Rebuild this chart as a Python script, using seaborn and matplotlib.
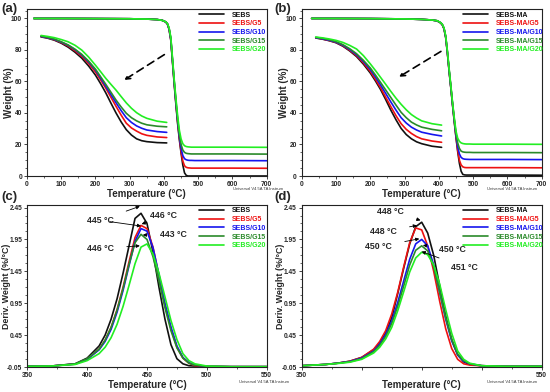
import numpy as np
import pandas as pd
import matplotlib
matplotlib.use('Agg')
import matplotlib.pyplot as plt
import seaborn as sns
from matplotlib.lines import Line2D
from matplotlib.ticker import AutoMinorLocator

# ---------------- data ----------------
names_a = ['SEBS', 'SEBS/G5', 'SEBS/G10', 'SEBS/G15', 'SEBS/G20']
names_b = ['SEBS-MA', 'SEBS-MA/G5', 'SEBS-MA/G10', 'SEBS-MA/G15', 'SEBS-MA/G20']
colors = ['#111111', '#ee1111', '#1515ee', '#2a8a2a', '#22ee22']

# (a) TGA, full run
t_main_a = [20, 100, 200, 300, 350, 380, 395, 405, 410, 415, 420, 425, 430, 435,
            440, 445, 450, 455, 460, 465, 470, 475, 480, 490, 500, 600, 700]
w_main_a = [
    [100, 100, 99.9, 99.8, 99.6, 99.3, 98.8, 97.8, 96.5, 93.0, 86.0, 72.0, 58.0, 45.0,
     33.0, 23.0, 14.5, 7.0, 2.0, 0.4, 0, 0, 0, 0, 0, 0, 0],
    [100, 100, 99.9, 99.8, 99.6, 99.3, 98.8, 97.8, 96.5, 93.2, 86.5, 72.5, 59.0, 46.0,
     34.0, 24.0, 15.5, 9.5, 6.5, 5.5, 5.2, 5.1, 5.0, 5.0, 5.0, 5.0, 4.9],
    [100, 100, 99.9, 99.8, 99.6, 99.3, 98.8, 97.8, 96.6, 93.4, 87.0, 73.0, 59.5, 46.5,
     35.0, 25.0, 17.5, 13.0, 11.0, 10.3, 10.0, 9.9, 9.9, 9.8, 9.8, 9.8, 9.7],
    [100, 100, 99.9, 99.8, 99.6, 99.3, 98.8, 97.8, 96.7, 93.6, 87.5, 73.5, 60.0, 47.5,
     36.0, 26.5, 20.0, 16.5, 15.0, 14.4, 14.2, 14.1, 14.0, 14.0, 14.0, 14.0, 13.9],
    [100, 100, 99.9, 99.8, 99.6, 99.3, 98.8, 97.9, 96.8, 94.0, 88.0, 74.5, 61.0, 49.0,
     38.0, 29.0, 23.5, 20.5, 19.2, 18.7, 18.5, 18.4, 18.3, 18.3, 18.3, 18.3, 18.2],
]
# (a) TGA, lower curves
t_low_a = [41, 60, 80, 100, 120, 140, 160, 180, 200, 215, 230, 245, 260, 275, 290,
           305, 320, 335, 350, 380, 408]
w_low_a = [
    [88.3, 87.5, 86.2, 84.3, 81.8, 78.6, 74.8, 69.8, 64.0, 58.6, 52.8, 46.3, 40.0, 34.3,
     29.4, 26.0, 23.6, 22.4, 21.8, 21.2, 21.0],
    [88.5, 87.7, 86.5, 84.7, 82.5, 79.5, 76.0, 71.4, 66.0, 61.0, 55.8, 50.0, 44.2, 38.6,
     33.5, 30.5, 28.5, 26.8, 25.8, 24.8, 24.4],
    [88.6, 87.8, 86.7, 85.0, 83.0, 80.2, 76.8, 72.4, 67.2, 62.2, 57.0, 51.7, 46.5, 41.5,
     37.0, 34.0, 31.8, 30.3, 29.2, 28.2, 27.7],
    [88.8, 88.0, 86.9, 85.2, 83.2, 80.5, 77.2, 72.9, 67.8, 63.0, 58.2, 53.2, 48.2, 43.8,
     39.8, 37.0, 35.0, 33.5, 32.5, 31.6, 31.2],
    [89.2, 88.6, 87.8, 86.6, 85.2, 83.0, 79.9, 75.5, 70.3, 66.2, 62.0, 58.2, 54.5, 50.4,
     46.4, 43.0, 40.2, 38.1, 36.6, 34.8, 34.0],
]

# (b) TGA, full run
t_main_b = [29, 100, 200, 300, 350, 380, 395, 405, 410, 415, 420, 425, 430, 435,
            440, 445, 450, 455, 460, 465, 470, 475, 480, 490, 500, 600, 700]
w_main_b = [
    [100, 100, 99.9, 99.7, 99.4, 99.0, 98.5, 97.2, 96.0, 93.5, 88.0, 78.0, 66.5, 56.0,
     45.0, 34.5, 24.5, 15.5, 8.0, 3.0, 1.0, 0.7, 0.6, 0.6, 0.6, 0.6, 0.5],
    [100, 100, 99.9, 99.7, 99.4, 99.0, 98.5, 97.2, 96.0, 93.5, 88.0, 78.0, 66.5, 56.0,
     45.2, 35.0, 25.0, 16.5, 10.0, 7.0, 5.8, 5.4, 5.3, 5.3, 5.3, 5.3, 5.2],
    [100, 100, 99.9, 99.7, 99.4, 99.0, 98.5, 97.3, 96.1, 93.7, 88.3, 78.4, 67.0, 56.4,
     45.5, 35.5, 26.0, 18.5, 14.0, 11.8, 11.0, 10.7, 10.6, 10.5, 10.5, 10.5, 10.4],
    [100, 100, 99.9, 99.7, 99.4, 99.0, 98.5, 97.3, 96.2, 93.8, 88.6, 78.8, 67.4, 56.8,
     46.0, 36.0, 27.0, 21.0, 17.5, 15.8, 15.3, 15.1, 15.0, 15.0, 14.9, 14.9, 14.8],
    [100, 100, 99.9, 99.7, 99.4, 99.0, 98.6, 97.4, 96.3, 94.0, 89.0, 79.3, 68.0, 57.4,
     46.5, 37.0, 28.5, 24.0, 22.0, 21.0, 20.6, 20.4, 20.3, 20.3, 20.2, 20.2, 20.1],
]
# (b) TGA, lower curves
t_low_b = [41, 60, 80, 100, 120, 140, 160, 180, 200, 215, 230, 245, 260, 275, 290,
           305, 320, 335, 350, 380, 408]
w_low_b = [
    [87.6, 86.9, 85.9, 84.6, 82.4, 79.4, 75.8, 71.0, 65.4, 60.4, 54.9, 48.5, 41.8, 35.7,
     30.2, 26.3, 23.6, 21.7, 20.5, 18.9, 18.2],
    [87.7, 87.0, 86.0, 84.8, 82.7, 79.8, 76.4, 71.8, 66.4, 61.4, 56.0, 50.0, 44.0, 38.3,
     33.2, 29.6, 27.0, 25.0, 23.6, 22.2, 21.4],
    [87.8, 87.1, 86.2, 85.0, 83.0, 80.3, 77.0, 72.7, 67.6, 62.9, 57.8, 52.4, 47.0, 41.8,
     37.0, 33.6, 31.0, 29.2, 27.8, 26.4, 25.4],
    [88.0, 87.4, 86.5, 85.3, 83.4, 80.8, 77.6, 73.4, 68.6, 64.1, 59.4, 54.6, 49.8, 45.0,
     40.4, 37.0, 34.2, 32.4, 31.0, 29.6, 28.7],
    [88.2, 87.7, 87.0, 86.1, 84.8, 82.9, 80.6, 76.4, 71.2, 67.0, 62.6, 58.2, 53.7, 49.4,
     45.5, 42.0, 39.0, 36.8, 35.0, 33.2, 32.3],
]

# (c) DTG
t_dtg_c = [350, 370, 390, 400, 410, 415, 420, 425, 430, 435, 440, 445, 450, 455,
           460, 465, 470, 475, 480, 485, 490, 500, 520, 550]
d_dtg_c = [
    [-0.04, -0.035, 0.0, 0.09, 0.28, 0.45, 0.70, 1.02, 1.42, 1.85, 2.28, 2.36, 2.20, 1.75,
     1.20, 0.70, 0.30, 0.08, 0.0, -0.03, -0.035, -0.04, -0.045, -0.045],
    [-0.04, -0.035, -0.005, 0.07, 0.23, 0.37, 0.57, 0.85, 1.20, 1.60, 1.98, 2.17, 2.12, 1.83,
     1.38, 0.92, 0.55, 0.26, 0.09, 0.01, -0.03, -0.04, -0.045, -0.045],
    [-0.04, -0.035, -0.005, 0.07, 0.22, 0.35, 0.54, 0.81, 1.15, 1.54, 1.92, 2.12, 2.08, 1.82,
     1.40, 0.95, 0.58, 0.28, 0.10, 0.02, -0.02, -0.04, -0.045, -0.045],
    [-0.04, -0.035, 0.0, 0.08, 0.23, 0.37, 0.57, 0.84, 1.18, 1.56, 1.90, 2.03, 1.95, 1.68,
     1.30, 0.88, 0.52, 0.25, 0.09, 0.01, -0.02, -0.04, -0.045, -0.045],
    [-0.04, -0.035, -0.01, 0.05, 0.16, 0.26, 0.41, 0.62, 0.90, 1.23, 1.57, 1.83, 1.88, 1.72,
     1.42, 1.05, 0.68, 0.38, 0.16, 0.05, 0.0, -0.035, -0.045, -0.045],
]
peak_labels_c = ['445 °C', '446 °C', '443 °C', '446 °C']

# (d) DTG
t_dtg_d = [350, 370, 380, 390, 400, 410, 415, 420, 425, 430, 435, 440, 445, 450, 455,
           460, 465, 470, 475, 480, 485, 490, 500, 520, 550]
d_dtg_d = [
    [-0.03, -0.01, 0.01, 0.04, 0.10, 0.22, 0.33, 0.48, 0.72, 1.10, 1.50, 1.88, 2.15, 2.22, 2.05,
     1.70, 1.22, 0.75, 0.38, 0.14, 0.03, -0.01, -0.03, -0.04, -0.04],
    [-0.03, -0.01, 0.01, 0.04, 0.10, 0.23, 0.35, 0.52, 0.78, 1.12, 1.52, 1.90, 2.13, 2.10, 1.85,
     1.45, 0.98, 0.55, 0.24, 0.07, 0.0, -0.02, -0.03, -0.04, -0.04],
    [-0.03, -0.01, 0.01, 0.035, 0.09, 0.20, 0.31, 0.46, 0.67, 0.96, 1.30, 1.64, 1.88, 1.95, 1.85,
     1.55, 1.12, 0.70, 0.36, 0.14, 0.04, 0.0, -0.03, -0.04, -0.04],
    [-0.03, -0.01, 0.01, 0.03, 0.08, 0.19, 0.29, 0.43, 0.63, 0.90, 1.22, 1.55, 1.78, 1.85, 1.77,
     1.52, 1.12, 0.72, 0.38, 0.15, 0.05, 0.0, -0.03, -0.04, -0.04],
    [-0.03, -0.01, 0.005, 0.025, 0.07, 0.17, 0.26, 0.39, 0.57, 0.83, 1.13, 1.44, 1.66, 1.75, 1.71,
     1.55, 1.25, 0.85, 0.48, 0.20, 0.07, 0.01, -0.03, -0.04, -0.04],
]
peak_labels_d = ['448 °C', '448 °C', '450 °C', '450 °C', '451 °C']

tga_xticks = [0, 100, 200, 300, 400, 500, 600, 700]
tga_yticks = [0, 20, 40, 60, 80, 100]
dtg_yticks = [-0.05, 0.45, 0.95, 1.45, 1.95, 2.45]
dtg_xticks_c = [350, 400, 450, 500, 550]
dtg_xticks_d = [350, 400, 450, 500, 550]
dtg_xlabels_d = ['350', '', '', '', '550']

# ---------------- style ----------------
sns.set_style('ticks')
plt.rcParams['font.family'] = ['Liberation Sans', 'DejaVu Sans']
plt.rcParams['axes.linewidth'] = 0.8
narrow = ['Liberation Sans Narrow', 'Liberation Sans', 'DejaVu Sans']
LW = 1.2

fig = plt.figure(figsize=(5.5, 3.92), dpi=100)
W, H = 550, 392


def add_ax(x0, y0, x1, y1):
    return fig.add_axes([x0 / W, 1 - y1 / H, (x1 - x0) / W, (y1 - y0) / H])


def to_long(t, ys, names):
    rows = []
    for name, y in zip(names, ys):
        rows.append(pd.DataFrame({'T': t, 'v': y, 'sample': name}))
    return pd.concat(rows, ignore_index=True)


def style_axes(ax, xlabel, ylabel, ylab_size, ylab_x):
    ax.set_xlabel(xlabel, fontsize=7, fontweight='bold', family=narrow, labelpad=1)
    ax.set_ylabel(ylabel, fontsize=ylab_size, fontweight='bold')
    ax.yaxis.set_label_coords(ylab_x, 0.5)
    ax.tick_params(axis='both', which='major', length=2.5, width=0.6, pad=1,
                   labelsize=4.8, direction='out')
    ax.tick_params(axis='both', which='minor', length=1.4, width=0.5, direction='out')
    for lab in ax.get_xticklabels() + ax.get_yticklabels():
        lab.set_fontweight('bold')
        lab.set_family(narrow)
    ax.xaxis.set_minor_locator(AutoMinorLocator(2))
    ax.yaxis.set_minor_locator(AutoMinorLocator(4))
    for s in ax.spines.values():
        s.set_visible(True)
        s.set_color('#222222')


def add_legend(ax, names, x_frac, y_frac):
    handles = [Line2D([0], [0], color=c, lw=LW) for c in colors]
    leg = ax.legend(handles, names, loc='upper left', bbox_to_anchor=(x_frac, y_frac),
                    frameon=False, handlelength=3.6, handletextpad=1.1,
                    labelspacing=0.25, borderpad=0, borderaxespad=0,
                    prop={'weight': 'bold', 'size': 5, 'family': narrow})
    for txt, c in zip(leg.get_texts(), colors):
        txt.set_color(c)


def draw_tga(ax, t_main, w_main, t_low, w_low, names, arrow_from, arrow_to):
    pal = dict(zip(names, colors))
    sns.lineplot(data=to_long(t_main, w_main, names), x='T', y='v', hue='sample',
                 palette=pal, legend=False, lw=LW, ax=ax)
    sns.lineplot(data=to_long(t_low, w_low, names), x='T', y='v', hue='sample',
                 palette=pal, legend=False, lw=LW, ax=ax)
    ax.set_xlim(0, 700)
    ax.set_ylim(0, 106)
    ax.set_xticks(tga_xticks)
    ax.set_yticks(tga_yticks)
    ax.annotate('', xy=arrow_to, xytext=arrow_from,
                arrowprops=dict(arrowstyle='->', color='k', lw=1.2,
                                linestyle=(0, (4.5, 3)), mutation_scale=8))
    style_axes(ax, 'Temperature (°C)', 'Weight (%)', 7, -0.054)


def draw_dtg(ax, t, d, names, xticks, xlabels, notes):
    pal = dict(zip(names, colors))
    sns.lineplot(data=to_long(t, d, names), x='T', y='v', hue='sample',
                 palette=pal, legend=False, lw=LW, ax=ax)
    ax.set_xlim(350, 550)
    ax.set_ylim(-0.05, 2.49)
    ax.set_xticks(xticks)
    ax.set_xticklabels(xlabels)
    ax.set_yticks(dtg_yticks)
    ax.set_yticklabels([f'{v:.2f}' for v in dtg_yticks])
    for text, xytext, targets in notes:
        for i, xy in enumerate(targets):
            ax.annotate(text if i == 0 else '', xy=xy, xytext=xytext,
                        fontsize=6.3, fontweight='bold', ha='center', va='center',
                        arrowprops=dict(arrowstyle='-|>', color='k', lw=0.6,
                                        mutation_scale=5, shrinkA=7, shrinkB=0))
    style_axes(ax, 'Temperature (°C)', 'Deriv. Weight (%/°C)', 6.4, -0.07)


# (a)
ax_a = add_ax(27, 9, 266.7, 176)
draw_tga(ax_a, t_main_a, w_main_a, t_low_a, w_low_a, names_a, (408, 78), (277, 60))
add_legend(ax_a, names_a, 0.718, 0.985)

# (b)
ax_b = add_ax(301.7, 9, 541.7, 176)
draw_tga(ax_b, t_main_b, w_main_b, t_low_b, w_low_b, names_b, (413, 80), (277, 62))
add_legend(ax_b, names_b, 0.673, 0.985)

# (c)
ax_c = add_ax(27.3, 205, 266.7, 367)
notes_c = [
    (peak_labels_c[0], (411, 2.25), [(444, 2.47), (445, 2.16)]),
    (peak_labels_c[1], (464, 2.32), [(445.5, 2.19)]),
    (peak_labels_c[2], (472, 2.02), [(446.5, 2.02)]),
    (peak_labels_c[3], (411, 1.81), [(444, 1.85)]),
]
draw_dtg(ax_c, t_dtg_c, d_dtg_c, names_a, dtg_xticks_c, [str(v) for v in dtg_xticks_c], notes_c)
add_legend(ax_c, names_a, 0.718, 0.985)

# (d)
ax_d = add_ax(301.7, 205, 541.7, 367)
notes_d = [
    (peak_labels_d[0], (424, 2.39), [(449, 2.25)]),
    (peak_labels_d[1], (418, 2.07), [(446, 2.17)]),
    (peak_labels_d[2], (414, 1.84), [(448, 1.96)]),
    (peak_labels_d[3], (476, 1.79), [(451, 1.86)]),
    (peak_labels_d[4], (486, 1.51), [(450, 1.76)]),
]
draw_dtg(ax_d, t_dtg_d, d_dtg_d, names_b, dtg_xticks_d, dtg_xlabels_d, notes_d)
add_legend(ax_d, names_b, 0.673, 0.985)

# panel letters
for lab, x, y in [('(a)', 1, 9), ('(b)', 274, 9), ('(c)', 1, 197), ('(d)', 274, 197)]:
    fig.text(x / W, 1 - y / H, lab, fontsize=9.5, fontweight='bold', ha='left', va='center')

# instrument stamps
for x, y in [(233, 189), (487, 189), (239, 382), (487, 382)]:
    fig.text(x / W, 1 - y / H, 'Universal V4.5A TA Instrum', fontsize=3,
             color='#333333', ha='left', va='center')

fig.savefig('out.png', dpi=100)
